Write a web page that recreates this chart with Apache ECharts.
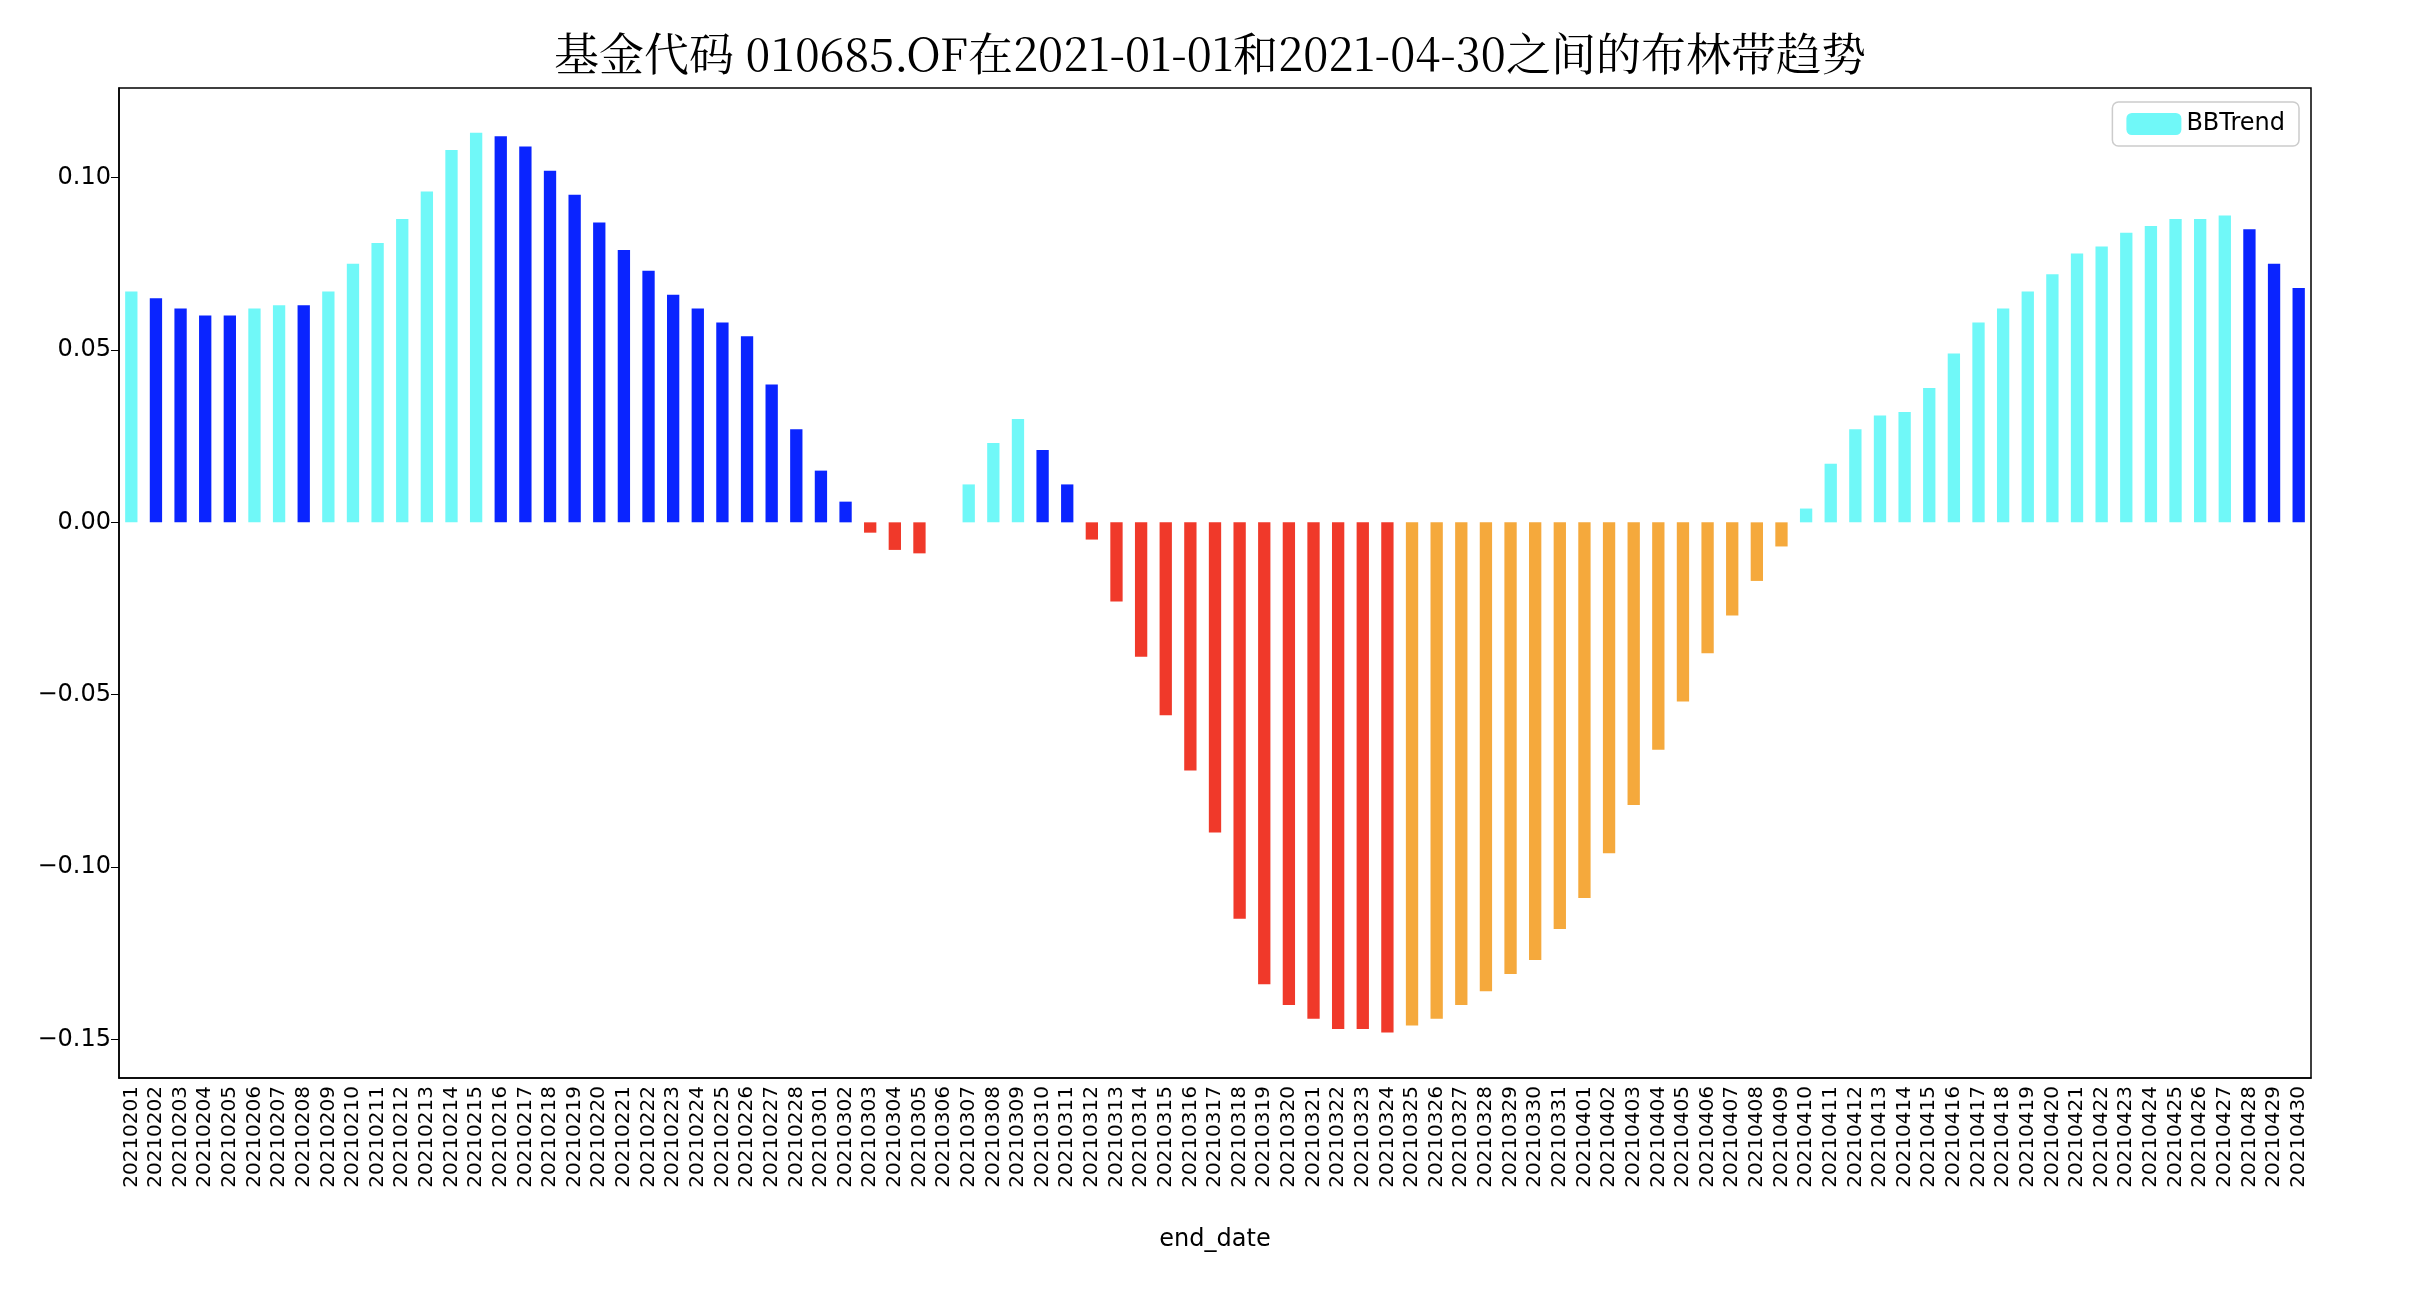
<!DOCTYPE html>
<html><head><meta charset="utf-8">
<script src="https://cdn.jsdelivr.net/npm/echarts@6/dist/echarts.min.js"></script>
<style>html,body{margin:0;padding:0;background:#fff}#c{width:2420px;height:1312px}</style>
</head><body><div id="c"></div>
<script>
const dates = [];
const months = [['02',28],['03',31],['04',30]];
for (const [m,n] of months) for (let d=1; d<=n; d++) dates.push('2021'+m+String(d).padStart(2,'0'));

const values = [
 0.067,0.065,0.062,0.060,0.060,0.062,0.063,0.063,0.067,0.075,0.081,0.088,0.096,0.108,0.113,0.112,0.109,0.102,0.095,0.087,0.079,0.073,0.066,0.062,0.058,0.054,0.040,0.027,
 0.015,0.006,-0.003,-0.008,-0.009,0,0.011,0.023,0.030,0.021,0.011,-0.005,-0.023,-0.039,-0.056,-0.072,-0.090,-0.115,-0.134,-0.140,-0.144,-0.147,-0.147,-0.148,-0.146,-0.144,-0.140,-0.136,-0.131,-0.127,-0.118,
 -0.109,-0.096,-0.082,-0.066,-0.052,-0.038,-0.027,-0.017,-0.007,0.004,0.017,0.027,0.031,0.032,0.039,0.049,0.058,0.062,0.067,0.072,0.078,0.080,0.084,0.086,0.088,0.088,0.089,0.085,0.075,0.068
];
// trend class per bar: c = rising positive, b = falling positive, r = falling negative, o = rising negative
const trend = ('cbbbbccbccccccc' + 'bbbbbbbbbbbbb' +
  'bbrrr' + 'c' + 'cccbb' + 'rrrrrrrrrrrrr' + 'ooooooo' +
  'ooooooooo' + 'cccccccccccccccccc' + 'bbb').split('');
const palette = {c:'#70f8f8', b:'#0a24ff', r:'#f0392a', o:'#f5a93c'};
const yTicks = [-0.15,-0.10,-0.05,0,0.05,0.10];

const L=119, R=109, T=88, B=234;
const chart = echarts.init(document.getElementById('c'));
chart.setOption({
  animation:false,
  title:{text:'基金代码 010685.OF在2021-01-01和2021-04-30之间的布林带趋势',left:'center',top:26,
    textStyle:{fontFamily:'Noto Serif CJK SC, Noto Sans CJK SC, serif',fontSize:45,fontWeight:'normal',color:'#000'}},
  legend:{right:121,top:102,orient:'vertical',itemWidth:55,itemHeight:22,
    data:[{name:'BBTrend',itemStyle:{color:palette.c}}],
    textStyle:{fontSize:24,color:'#000',fontFamily:'DejaVu Sans'},
    borderColor:'#ccc',borderWidth:1.5,borderRadius:6,padding:[10,14]},
  grid:{left:L,right:R,top:T,bottom:B,containLabel:false},
  xAxis:{type:'category',data:dates,name:'end_date',nameLocation:'middle',nameGap:150,
    nameTextStyle:{fontSize:24,color:'#000',fontFamily:'DejaVu Sans'},
    axisLine:{show:true,onZero:false,lineStyle:{color:'#000',width:1.5}},
    axisTick:{alignWithLabel:true,lineStyle:{color:'#000'},length:8},
    axisLabel:{rotate:90,interval:0,fontSize:20,color:'#000',fontFamily:'DejaVu Sans'},
    splitLine:{show:false}},
  yAxis:{type:'value',min:-0.1612,max:0.126,
    axisLine:{show:true,lineStyle:{color:'#000',width:1.5}},
    axisTick:{show:true,length:8,lineStyle:{color:'#000'},customValues:yTicks},
    axisLabel:{fontSize:24,color:'#000',fontFamily:'DejaVu Sans',customValues:yTicks,
      formatter:v=>(v<0?'−':'')+Math.abs(v).toFixed(2)},
    splitLine:{show:false}},
  series:[{type:'bar',name:'BBTrend',barWidth:'50%',
    data:values.map((v,i)=>({value:v,itemStyle:{color:palette[trend[i]]}}))}]
});
chart.setOption({graphic:[{type:'rect',shape:{x:L,y:T,width:2420-L-R,height:1312-T-B},style:{fill:'none',stroke:'#000',lineWidth:1.5},silent:true}]});
</script></body></html>
